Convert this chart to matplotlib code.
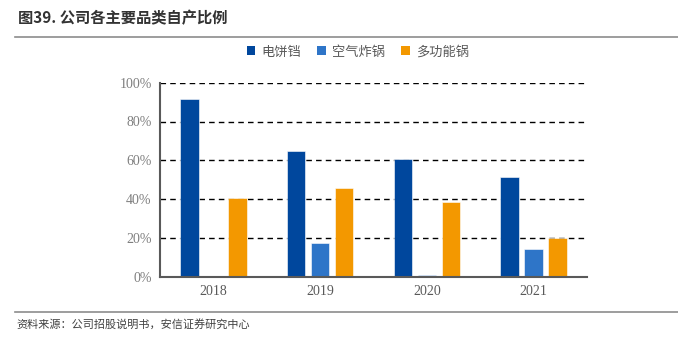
import numpy as np
import matplotlib.pyplot as plt
from matplotlib.lines import Line2D
import matplotlib.patches as mpatches

years = ['2018', '2019', '2020', '2021']
series_names = ['电饼铛', '空气炸锅', '多功能锅']
pancake = [91.4, 64.8, 60.6, 51.5]
air_fryer = [0.0, 17.4, 0.8, 14.1]
multi_pot = [40.4, 45.7, 38.5, 19.8]
yticks = [0, 20, 40, 60, 80, 100]

colors = ['#00479D', '#2E75C8', '#F39800']

plt.rcParams['font.family'] = ['Noto Sans CJK SC', 'DejaVu Sans']

fig = plt.figure(figsize=(6.78, 3.39), dpi=100, facecolor='white')
# axes placed in pixel terms: left 160, right 587, top 82.7, bottom 276.7
W, H = 678, 339
ax = fig.add_axes([160 / W, 1 - 276.7 / H, (587 - 160) / W, (276.7 - 82.7) / H])

x = np.arange(len(years))
bar_w = 0.173
step = 0.224
for i, vals in enumerate([pancake, air_fryer, multi_pot]):
    ax.bar(x + (i - 1) * step, vals, width=bar_w, color=colors[i],
           edgecolor='white', linewidth=0.4, zorder=3)

ax.set_xlim(-0.5, 3.5)
ax.set_ylim(0, 100)
ax.set_yticks(yticks)
ax.set_yticklabels([f'{v}%' for v in yticks], family='Liberation Serif',
                   fontsize=10, color='#7F7F7F')
ax.set_xticks(x)
ax.set_xticklabels(years, family='Liberation Serif', fontsize=10, color='#595959')
ax.tick_params(axis='both', length=0, pad=6)

# dashed gridlines
ax.yaxis.grid(True, color='black', linestyle=(0, (4, 3)), linewidth=1.0, zorder=0)
for s in ['top', 'right']:
    ax.spines[s].set_visible(False)
for s in ['left', 'bottom']:
    ax.spines[s].set_color('#595959')
    ax.spines[s].set_linewidth(1.5)
ax.spines['left'].set_zorder(4)
ax.spines['bottom'].set_zorder(4)

# legend
handles = [mpatches.Patch(facecolor=c, edgecolor='none', label=n)
           for c, n in zip(colors, series_names)]
fig.legend(handles=handles, loc='center', bbox_to_anchor=(358 / W, 1 - 52 / H),
           ncol=3, frameon=False, fontsize=9.5, handlelength=0.65, handleheight=0.65,
           handletextpad=0.5, columnspacing=1.2, labelcolor='#595959')

# title and source
fig.text(18 / W, 1 - 18 / H, '图39. 公司各主要品类自产比例', fontsize=11,
         fontweight='bold', color='#333333', va='center', ha='left')
fig.add_artist(Line2D([15 / W, 1.0], [1 - 37 / H, 1 - 37 / H], color='#8C8C8C',
                      linewidth=1.2, transform=fig.transFigure))
fig.add_artist(Line2D([15 / W, 1.0], [1 - 312 / H, 1 - 312 / H], color='#8C8C8C',
                      linewidth=1.2, transform=fig.transFigure))
fig.text(16 / W, 1 - 324 / H, '资料来源：公司招股说明书，安信证券研究中心', fontsize=8,
         style='italic', color='#404040', va='center', ha='left')

fig.savefig('out.png', dpi=100, facecolor='white')
